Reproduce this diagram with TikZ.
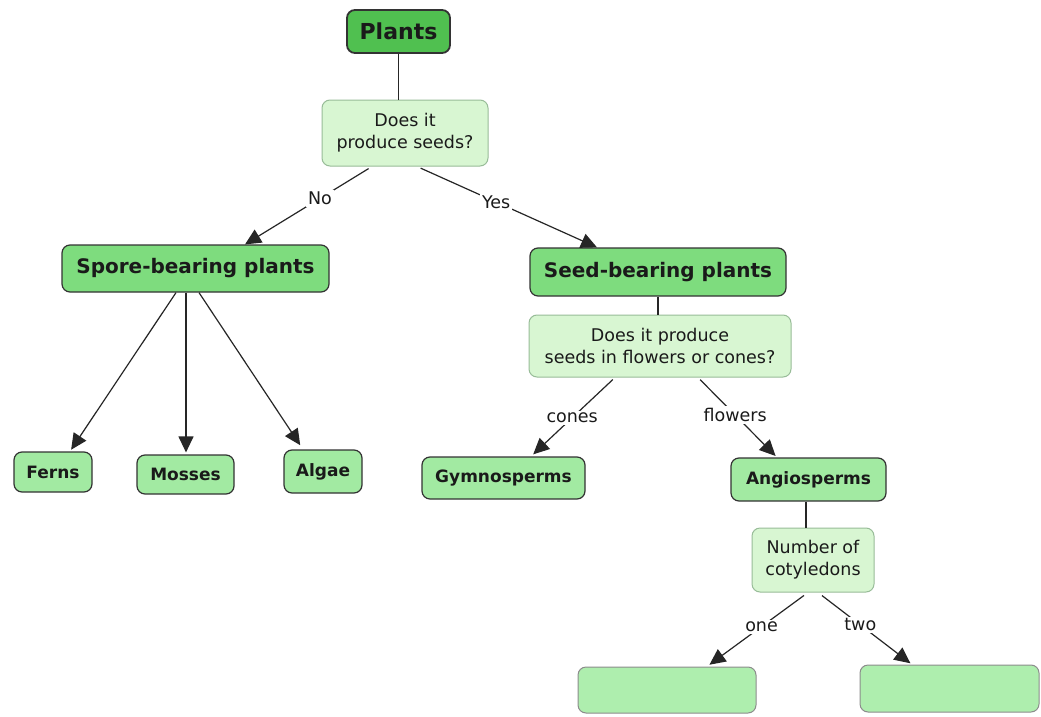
\documentclass[tikz,border=0pt]{standalone}
\usepackage{fontspec}
\setmainfont{DejaVu Sans}
\usetikzlibrary{arrows.meta}
\definecolor{darkfill}{HTML}{50C050}
\definecolor{midfill}{HTML}{7EDC7E}
\definecolor{leaffill}{HTML}{A2EAA2}
\definecolor{qfill}{HTML}{D8F6D2}
\definecolor{qborder}{HTML}{98BC98}
\definecolor{emptyfill}{HTML}{AEEEAE}
\definecolor{txt}{HTML}{1A1A1A}
\tikzset{
  box/.style={rounded corners=8pt, draw=black!80, line width=1.2pt, text=txt, inner sep=1pt, align=center},
  topbox/.style={box, fill=darkfill, line width=1.8pt, font=\fontsize{22}{24}\selectfont\bfseries},
  midbox/.style={box, fill=midfill, font=\fontsize{20}{22}\selectfont\bfseries},
  leafbox/.style={box, fill=leaffill, font=\fontsize{17}{19}\selectfont\bfseries},
  qbox/.style={rounded corners=8pt, draw=qborder, line width=1pt, fill=qfill, text=txt, inner sep=1pt, align=center, font=\fontsize{17.5}{22}\selectfont},
  emptybox/.style={rounded corners=8pt, draw=black!45, line width=1pt, fill=emptyfill},
  link/.style={line width=1.2pt, draw=black!85},
  arr/.style={link, -{Triangle[length=16pt,width=15pt]}},
  lab/.style={fill=white, text=txt, inner sep=2pt, font=\fontsize{17.5}{20}\selectfont}
}
\begin{document}
\begin{tikzpicture}[x=1pt,y=-1pt]
\useasboundingbox[fill=white] (0,0) rectangle (1041,717);
\node[topbox, minimum width=103, minimum height=43] (plants) at (398.5,31.5) {Plants};
\node[qbox, minimum width=166, minimum height=66] (q1) at (405,133) {Does it\\produce seeds?};
\node[midbox, minimum width=267, minimum height=47] (spore) at (195.5,268.5) {Spore-bearing plants};
\node[midbox, minimum width=256, minimum height=48] (seed) at (658,272) {Seed-bearing plants};
\node[qbox, minimum width=262, minimum height=62] (q2) at (660,346) {Does it produce\\seeds in flowers or cones?};
\node[leafbox, minimum width=78, minimum height=40] (ferns) at (53,472) {Ferns};
\node[leafbox, minimum width=97, minimum height=39] (mosses) at (185.5,474.5) {Mosses};
\node[leafbox, minimum width=78, minimum height=43] (algae) at (323,471.5) {Algae};
\node[leafbox, minimum width=163, minimum height=42] (gymno) at (503.5,478) {Gymnosperms};
\node[leafbox, minimum width=155, minimum height=43] (angio) at (808.5,479.5) {Angiosperms};
\node[qbox, minimum width=122, minimum height=64] (q3) at (813,560) {Number of\\cotyledons};
\node[emptybox, minimum width=178, minimum height=46] (e1) at (667,690) {};
\node[emptybox, minimum width=179, minimum height=47] (e2) at (949.5,688.5) {};

\draw[link] (plants.south) -- (plants.south |- q1.north);
\draw[link] (seed.south) -- (seed.south |- q2.north);
\draw[link] ([xshift=-2.5pt]angio.south) -- ([xshift=-2.5pt]angio.south |- q3.north);

\draw[arr, shorten <=4pt] ([xshift=-33pt]q1.south) -- node[lab, pos=0.41] {No} ([xshift=49.5pt]spore.north);
\draw[arr, shorten <=4pt] ([xshift=12pt]q1.south) -- node[lab, pos=0.44] {Yes} ([xshift=-61pt]seed.north);

\draw[arr, shorten >=2pt] ([xshift=-19.5pt]spore.south) -- ([xshift=17pt]ferns.north);
\draw[arr, shorten >=2pt] ([xshift=-9.5pt]spore.south) -- ([xshift=0.5pt]mosses.north);
\draw[arr, shorten >=5pt] ([xshift=3.5pt]spore.south) -- ([xshift=-20pt]algae.north);

\draw[arr, shorten <=3pt, shorten >=3pt] ([xshift=-45pt]q2.south) -- node[lab, pos=0.51] {cones} ([xshift=27.5pt]gymno.north);
\draw[arr, shorten <=3pt, shorten >=2pt] ([xshift=38pt]q2.south) -- node[lab, pos=0.47] {flowers} ([xshift=-31.5pt]angio.north);

\draw[arr, shorten <=5pt, shorten >=3pt] ([xshift=-5pt]q3.south) -- node[lab, pos=0.46] {one} ([xshift=40pt]e1.north);
\draw[arr, shorten <=5pt, shorten >=2pt] ([xshift=5pt]q3.south) -- node[lab, pos=0.45] {two} ([xshift=-37.5pt]e2.north);
\end{tikzpicture}
\end{document}
